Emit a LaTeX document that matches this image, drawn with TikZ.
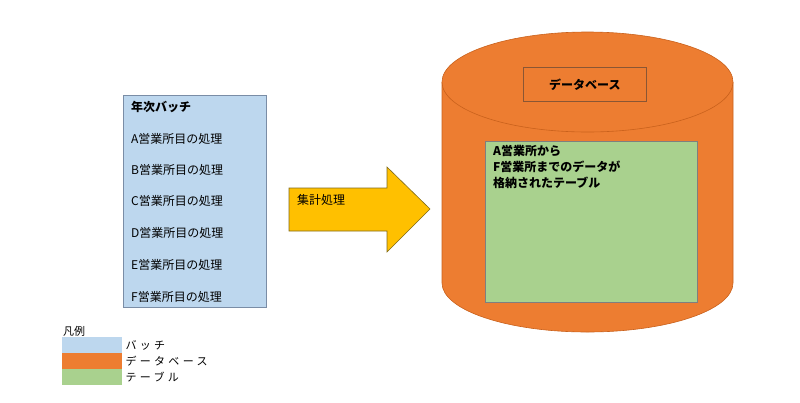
\documentclass[tikz,border=0pt]{standalone}
\usepackage{fontspec}
\setmainfont{Noto Sans CJK JP}
\usepackage{tikz}
\usetikzlibrary{positioning}
\definecolor{batFill}{HTML}{BDD7EE}
\definecolor{batEdge}{HTML}{7A8DA6}
\definecolor{dbFill}{HTML}{ED7D31}
\definecolor{dbEdge}{HTML}{C9611C}
\definecolor{dbLblEdge}{HTML}{8A5634}
\definecolor{tblFill}{HTML}{A9D18E}
\definecolor{tblEdge}{HTML}{7F7F7F}
\definecolor{aggFill}{HTML}{FFC000}
\definecolor{aggEdge}{HTML}{7F6A1A}
\tikzset{
  jptext/.style={font=\fontsize{12}{15}\selectfont,inner sep=0pt,anchor=west,text=black},
  jpbold/.style={jptext,font=\fontsize{12}{16}\selectfont\bfseries},
  legtext/.style={inner sep=0pt,anchor=west,
                  font=\fontsize{11}{12}\selectfont\addfontfeature{LetterSpace=30}},
  swatch/.style={minimum width=60pt,minimum height=15.5pt,inner sep=0pt,anchor=north west},
}
\begin{document}
\begin{tikzpicture}[x=1pt,y=-1pt]
  \useasboundingbox (0,0) rectangle (800,402);
  % batch box
  \node[draw=batEdge,fill=batFill,line width=0.8pt,minimum width=143pt,minimum height=212pt,
        anchor=north west,inner sep=0pt] (batch) at (123,95) {};
  \node[jpbold] (bathead) at (131,107) {年次バッチ};
  \foreach \ltr/\yy in {A/139,B/170,C/201,D/233,E/265,F/297}
    \node[jptext] (job\ltr) at (131,\yy) {\ltr 営業所目の処理};
  % aggregation arrow
  \filldraw[fill=aggFill,draw=aggEdge,line width=0.6pt]
    (289,188) -- (387,188) -- (387,167) -- (430,209) -- (387,252) -- (387,231) -- (289,231) -- cycle;
  \node[jptext] (agg) at (297,200) {集計処理};
  % database cylinder
  \filldraw[fill=dbFill,draw=dbEdge,line width=0.6pt]
    (442,82) -- (442,283) arc[start angle=180,end angle=360,x radius=145.5pt,y radius=49pt]
    -- (733,82);
  \filldraw[fill=dbFill,draw=dbEdge,line width=0.6pt] (587.5,82) ellipse[x radius=145.5pt,y radius=50pt];
  \node[draw=dbLblEdge,line width=0.6pt,minimum width=123pt,minimum height=34pt,inner sep=0pt,
        anchor=north west] (dblbl) at (523,67) {};
  \node[jpbold,anchor=center] (dbname) at (dblbl.center) {データベース};
  % table
  \node[draw=tblEdge,fill=tblFill,line width=0.8pt,minimum width=212pt,minimum height=161pt,
        anchor=north west,inner sep=0pt] (table) at (485,141) {};
  \node[jpbold,anchor=north west,align=left,font=\fontsize{12}{16}\selectfont\bfseries]
    (tbltext) at (493,145) {A営業所から\\F営業所までのデータが\\格納されたテーブル};
  % legend
  \node[jptext,font=\fontsize{11}{12}\selectfont] (leghead) at (63,331) {凡例};
  \node[swatch,fill=batFill] (legbat) at (62,337) {};
  \node[swatch,fill=dbFill,below=0pt of legbat] (legdb) {};
  \node[swatch,fill=tblFill,below=0pt of legdb] (legtbl) {};
  \node[legtext,right=3pt of legbat] {バッチ};
  \node[legtext,right=3pt of legdb] {データベース};
  \node[legtext,right=3pt of legtbl] {テーブル};
\end{tikzpicture}
\end{document}
